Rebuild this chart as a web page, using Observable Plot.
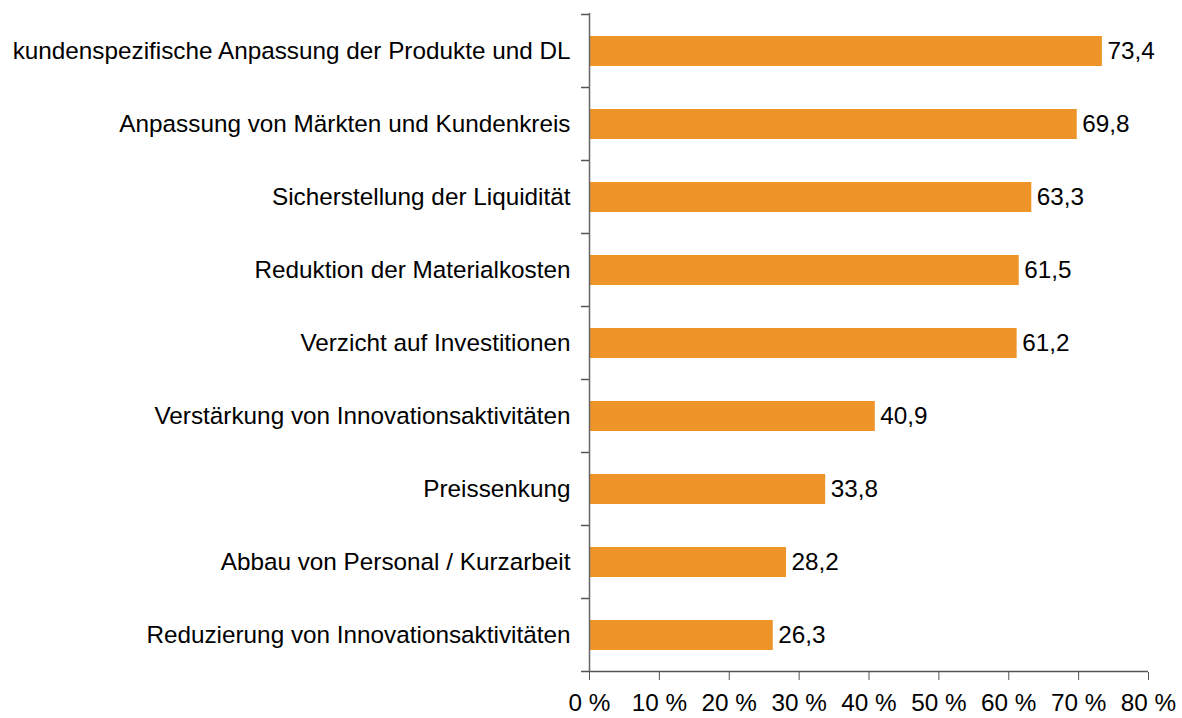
<!DOCTYPE html>
<html>
<head>
<meta charset="utf-8">
<script src="https://cdn.jsdelivr.net/npm/d3@7"></script>
<script src="https://cdn.jsdelivr.net/npm/@observablehq/plot@0.6"></script>
<style>
  html, body { margin: 0; padding: 0; background: #fff; }
  #chart svg { display: block; }
</style>
</head>
<body>
<div id="chart"></div>
<script>
const categories = [
  "kundenspezifische Anpassung der Produkte und DL",
  "Anpassung von Märkten und Kundenkreis",
  "Sicherstellung der Liquidität",
  "Reduktion der Materialkosten",
  "Verzicht auf Investitionen",
  "Verstärkung von Innovationsaktivitäten",
  "Preissenkung",
  "Abbau von Personal / Kurzarbeit",
  "Reduzierung von Innovationsaktivitäten"
];
const values = [73.4, 69.8, 63.3, 61.5, 61.2, 40.9, 33.8, 28.2, 26.3];
const xTicks = [0, 10, 20, 30, 40, 50, 60, 70, 80];

const data = categories.map((c, i) => ({category: c, value: values[i]}));
const fmt = v => v.toFixed(1).replace(".", ",");

const font = "'Liberation Sans', Arial, Helvetica, sans-serif";

const plot = Plot.plot({
  width: 1182,
  height: 718,
  marginLeft: 589,
  marginRight: 34,
  marginTop: 13,
  marginBottom: 46,
  style: {fontFamily: font, fontSize: "24.3px", color: "#000", background: "#fff"},
  x: {domain: [0, 80], ticks: xTicks, label: null},
  y: {domain: categories, paddingInner: 0.59, paddingOuter: 0.295, label: null},
  marks: [
    Plot.barX(data, {y: "category", x: "value", fill: "#EE9428"}),
    Plot.text(data, {y: "category", x: "value", text: d => fmt(d.value), textAnchor: "start", dx: 5, fill: "#000", fontSize: 24.3}),
    Plot.axisY({tickSize: 0, tickPadding: 19, fontSize: 24.3, fill: "#000"}),
    Plot.axisX({ticks: xTicks, tickSize: 8, tickPadding: 13, tickFormat: d => d + " %", fontSize: 24.3, fill: "#000", stroke: "#555"}),
    Plot.ruleX([0], {stroke: "#666", strokeWidth: 1.5})
  ]
});

document.getElementById("chart").appendChild(plot);

// axis line and tick marks at band boundaries, computed from Plot's own scales
const ys = plot.scale("y");
const xs = plot.scale("x");
const step = ys.step, bw = ys.bandwidth;
const x0 = xs.apply(0), x1 = xs.apply(80);
const bounds = categories.map(c => ys.apply(c) - (step - bw) / 2);
bounds.push(bounds[bounds.length - 1] + step);
const g = d3.select(plot).append("g")
  .attr("stroke", "#555")
  .attr("stroke-width", 1.5);
g.selectAll("line.tick")
  .data(bounds)
  .join("line")
  .attr("class", "tick")
  .attr("x1", x0 - 8)
  .attr("x2", x0)
  .attr("y1", d => d)
  .attr("y2", d => d);
g.append("line")
  .attr("x1", x0).attr("x2", x1)
  .attr("y1", bounds[bounds.length - 1]).attr("y2", bounds[bounds.length - 1]);
</script>
</body>
</html>
